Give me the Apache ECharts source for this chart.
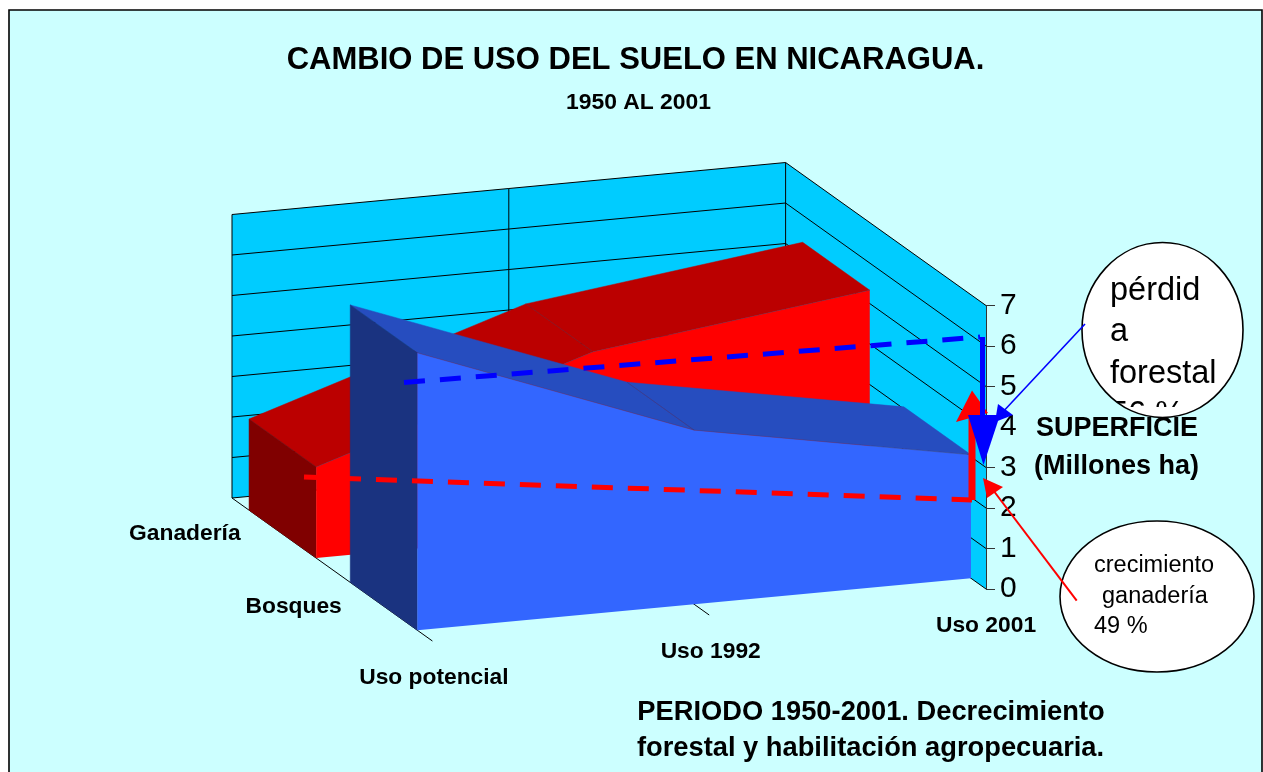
<!DOCTYPE html>
<html><head><meta charset="utf-8">
<style>html,body{margin:0;padding:0;background:#fff}#c{width:1263px;height:772px}</style>
<script src="https://cdn.jsdelivr.net/npm/echarts@6/dist/echarts.min.js"></script>
</head><body><div id="c"></div>
<script>
const categories = ['Uso potencial', 'Uso 1992', 'Uso 2001'];
const seriesNames = ['Ganadería', 'Bosques'];
const ganaderia = [2.25, 4.45, 5.33];
const bosques = [6.85, 4.3, 3.05];
const valueTicks = [0, 1, 2, 3, 4, 5, 6, 7];
const FONT = '"Liberation Sans", Arial, sans-serif';

// oblique projection of the 3D box onto the front plane of the cartesian grid
const SHEAR_Y = 26, DEPTH_X = 200.4, DEPTH_Y = 143;
const bands = {'Ganadería': [0.085, 0.42], 'Bosques': [0.59, 0.925]};
function proj(api, c, d, v) {
  const p = api.coord([c, v]);
  return [p[0] - (1 - d) * DEPTH_X, p[1] + (2 - c) * SHEAR_Y - (1 - d) * DEPTH_Y];
}
const LINE = {stroke: '#000', lineWidth: 1, fill: null};

function wallItem(params, api) {
  if (params.dataIndex !== 0) return null;
  const ch = [];
  const P = (c, d, v) => proj(api, c, d, v);
  ch.push({type: 'polygon', shape: {points: [P(0,0,0), P(2,0,0), P(2,0,7), P(0,0,7)]}, style: {fill: '#00CCFF'}});
  ch.push({type: 'polygon', shape: {points: [P(2,0,0), P(2,1,0), P(2,1,7), P(2,0,7)]}, style: {fill: '#00CCFF'}});
  valueTicks.forEach(v => {
    ch.push({type: 'polyline', shape: {points: [P(0,0,v), P(2,0,v), P(2,1,v)]}, style: LINE});
  });
  [0, 1, 2].forEach(c => {
    ch.push({type: 'polyline', shape: {points: [P(c,0,0), P(c,0,7)]}, style: LINE});
  });
  ch.push({type: 'polyline', shape: {points: [P(0,1,0), P(0,0,0)]}, style: LINE});
  ch.push({type: 'polyline', shape: {points: [P(1,1,0), P(1,0,0)]}, style: LINE});
  return {type: 'group', children: ch};
}

function areaItem(name, values, colors) {
  return function (params, api) {
    if (params.dataIndex !== 0) return null;
    const df = bands[name][1], db = bands[name][0];
    const P = (c, d, v) => proj(api, c, d, v);
    const ch = [];
    const n = values.length;
    for (let i = 0; i < n - 1; i++) {
      ch.push({type: 'polygon', shape: {points: [P(i,db,values[i]), P(i+1,db,values[i+1]), P(i+1,df,values[i+1]), P(i,df,values[i])]}, style: {fill: colors.top, stroke: colors.top, lineWidth: 0.5}});
    }
    ch.push({type: 'polygon', shape: {points: [P(0,db,0), P(0,df,0), P(0,df,values[0]), P(0,db,values[0])]}, style: {fill: colors.side, stroke: colors.side, lineWidth: 0.5}});
    const front = [P(0,df,0), P(n-1,df,0)];
    for (let i = n - 1; i >= 0; i--) front.push(P(i,df,values[i]));
    ch.push({type: 'polygon', shape: {points: front}, style: {fill: colors.front}});
    ch.push({type: 'polyline', shape: {points: values.map((v, i) => P(i,df,v))}, style: {stroke: 'rgba(90,50,90,.55)', lineWidth: 0.7, fill: null}});
    ch.push({type: 'polyline', shape: {points: [P(1,db,values[1]), P(1,df,values[1])]}, style: {stroke: 'rgba(70,40,70,.5)', lineWidth: 0.6, fill: null}});
    return {type: 'group', children: ch};
  };
}

function catLabels(params, api) {
  const c = api.value(0);
  const p = proj(api, c, 1, 0);
  return {type: 'text', x: p[0] + (c === 2 ? 0 : 1.5), y: p[1] + 37, style: {text: categories[c], font: 'bold 22.8px ' + FONT, fill: '#000', align: 'center', verticalAlign: 'middle'}};
}
function depthLabels(params, api) {
  const i = params.dataIndex;
  const b = bands[seriesNames[i]];
  const p = proj(api, 0, (b[0] + b[1]) / 2, 0);
  return {type: 'text', x: p[0] - 42, y: p[1], style: {text: seriesNames[i], font: 'bold 22.8px ' + FONT, fill: '#000', align: 'right', verticalAlign: 'middle'}};
}

// hand-drawn overlay shapes of the original slide
const ELL1 = {cx: 1162.5, cy: 330, rx: 80.5, ry: 87.5};
const ELL2 = {cx: 1157, cy: 596.5, rx: 97, ry: 75.5};
const perdidaLines = ['pérdid', 'a', 'forestal', '56 %'];
function overlay(params, api) {
  if (params.dataIndex !== 0) return null;
  const ch = [];
  ch.push({type: 'line', shape: {x1: 404, y1: 382.5, x2: 980, y2: 337}, style: {stroke: '#0000FF', lineWidth: 5, lineDash: [21, 15]}});
  ch.push({type: 'line', shape: {x1: 304, y1: 477, x2: 972, y2: 500}, style: {stroke: '#FF0000', lineWidth: 5, lineDash: [21, 15]}});
  ch.push({type: 'line', shape: {x1: 972, y1: 500, x2: 972, y2: 415}, style: {stroke: '#FF0000', lineWidth: 7}});
  ch.push({type: 'polygon', shape: {points: [[972, 390.5], [956, 422], [988, 413]]}, style: {fill: '#FF0000'}});
  ch.push({type: 'line', shape: {x1: 982.5, y1: 337, x2: 982.5, y2: 420}, style: {stroke: '#0000FF', lineWidth: 5}});
  ch.push({type: 'polygon', shape: {points: [[968, 415], [1000, 415], [983.5, 465]]}, style: {fill: '#0000FF'}});
  // callouts
  ch.push({type: 'ellipse', shape: ELL1, style: {fill: '#fff', stroke: '#000', lineWidth: 1.6}});
  ch.push({type: 'group', clipPath: {type: 'ellipse', shape: ELL1}, children: [
    {type: 'group', clipPath: {type: 'rect', shape: {x: 1080, y: 240, width: 170, height: 167}},
     children: perdidaLines.map((t, i) => ({type: 'text', x: 1110, y: 291 + i * 41.3, style: {text: t, font: '32.5px ' + FONT, fill: '#000', align: 'left', verticalAlign: 'middle'}}))}
  ]});
  ch.push({type: 'line', shape: {x1: 1085, y1: 324, x2: 1000, y2: 415}, style: {stroke: '#0000FF', lineWidth: 1.6}});
  ch.push({type: 'polygon', shape: {points: [[995, 422], [998, 404], [1013, 415]]}, style: {fill: '#0000FF'}});
  ch.push({type: 'ellipse', shape: ELL2, style: {fill: '#fff', stroke: '#000', lineWidth: 1.6}});
  ch.push({type: 'line', shape: {x1: 1076.7, y1: 600.7, x2: 990, y2: 486}, style: {stroke: '#FF0000', lineWidth: 2}});
  ch.push({type: 'polygon', shape: {points: [[983, 478], [1003, 487], [987, 498]]}, style: {fill: '#FF0000'}});
  [['crecimiento', 1094, 566], ['ganadería', 1102, 597], ['49 %', 1094, 627]].forEach(t => {
    ch.push({type: 'text', x: t[1], y: t[2], style: {text: t[0], font: '23.5px ' + FONT, fill: '#000', align: 'left', verticalAlign: 'middle'}});
  });
  return {type: 'group', children: ch};
}

function customSeries(name, fn, z, data) {
  return {type: 'custom', name, coordinateSystem: 'cartesian2d', xAxisIndex: 0, yAxisIndex: 0, z, renderItem: fn, data,
    encode: {x: 0, y: 1}, silent: true, animation: false};
}
const toPairs = vals => vals.map((v, i) => [i, v]);

const chart = echarts.init(document.getElementById('c'), null, {renderer: 'canvas'});
const centered = (text, x, y, font) => ({type: 'text', x, y, style: {text, font, fill: '#000', align: 'center', verticalAlign: 'middle'}});
chart.setOption({
  animation: false,
  backgroundColor: '#fff',
  tooltip: {show: false},
  legend: {show: false},
  grid: {left: 432.4, top: 305.5, width: 553.6, height: 283.5, containLabel: false},
  xAxis: {type: 'value', min: 0, max: 2, show: false},
  yAxis: {type: 'value', position: 'right', min: 0, max: 7, interval: 1, splitLine: {show: false},
    axisLine: {show: true, onZero: false, lineStyle: {color: '#333', width: 1}},
    axisTick: {show: true, length: 9, lineStyle: {color: '#333', width: 1}},
    axisLabel: {margin: 14, color: '#000', fontSize: 30, fontFamily: FONT}, z: 3},
  graphic: [
    {type: 'rect', silent: true, z: -10, shape: {x: 9, y: 10, width: 1253, height: 770}, style: {fill: '#CCFFFF', stroke: '#000', lineWidth: 1.6}},
    Object.assign(centered('CAMBIO DE USO DEL SUELO EN NICARAGUA.', 635.5, 60.5, 'bold 31px ' + FONT), {z: 10}),
    Object.assign(centered('1950 AL 2001', 638.5, 102.5, 'bold 22.9px ' + FONT), {z: 10}),
    Object.assign(centered('SUPERFICIE', 1117, 429, 'bold 27px ' + FONT), {z: 200}),
    Object.assign(centered('(Millones ha)', 1116.5, 467, 'bold 27px ' + FONT), {z: 200}),
    Object.assign(centered('PERIODO 1950-2001. Decrecimiento', 871, 712.5, 'bold 27.3px ' + FONT), {z: 10}),
    Object.assign(centered('forestal y habilitación agropecuaria.', 870.5, 748.5, 'bold 27.3px ' + FONT), {z: 10})
  ],
  series: [
    customSeries('paredes', wallItem, 1, [[0, 0]]),
    customSeries(seriesNames[0], areaItem(seriesNames[0], ganaderia, {front: '#FF0000', top: '#BB0000', side: '#800000'}), 4, toPairs(ganaderia)),
    customSeries(seriesNames[1], areaItem(seriesNames[1], bosques, {front: '#3366FF', top: '#264DBF', side: '#1A3380'}), 5, toPairs(bosques)),
    customSeries('categorias', catLabels, 6, categories.map((c, i) => [i, 0])),
    customSeries('profundidad', depthLabels, 6, seriesNames.map((c, i) => [i, 0])),
    customSeries('anotaciones', overlay, 7, [[0, 0]])
  ]
});
</script></body></html>
